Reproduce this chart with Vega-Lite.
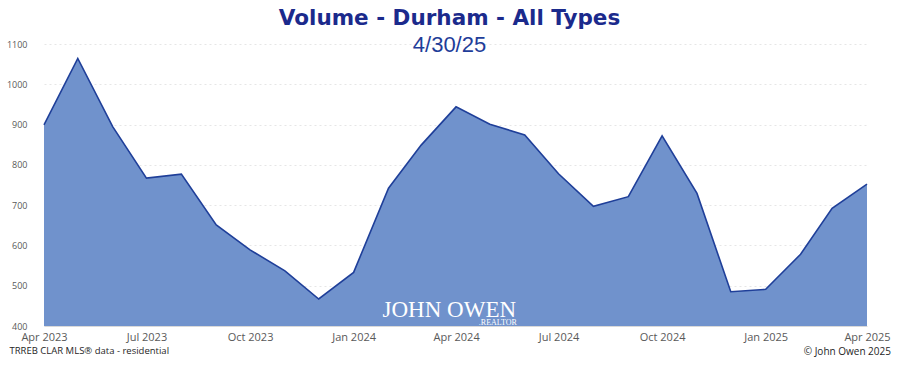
{
  "$schema": "https://vega.github.io/schema/vega-lite/v6.json",
  "width": 823,
  "height": 282,
  "autosize": {"type": "none"},
  "padding": {"left": 44, "top": 44, "right": 31, "bottom": 39},
  "background": "white",
  "config": {"view": {"stroke": null}, "font": "Open Sans"},
  "title": {
    "text": "Volume - Durham - All Types",
    "subtitle": "4/30/25",
    "font": "DejaVu Sans",
    "fontWeight": "bold",
    "fontSize": 21.5,
    "color": "#1b2a8c",
    "subtitleFont": "Liberation Sans",
    "subtitleFontSize": 22,
    "subtitleColor": "#1f3d99",
    "subtitlePadding": 6,
    "anchor": "middle",
    "frame": "group",
    "offset": -16,
    "dx": -6
  },
  "datasets": {
    "volume": [
      {"date": "2023-04-01", "volume": 899},
      {"date": "2023-05-01", "volume": 1064},
      {"date": "2023-06-01", "volume": 895},
      {"date": "2023-07-01", "volume": 767},
      {"date": "2023-08-01", "volume": 777},
      {"date": "2023-09-01", "volume": 651},
      {"date": "2023-10-01", "volume": 589},
      {"date": "2023-11-01", "volume": 537},
      {"date": "2023-12-01", "volume": 467},
      {"date": "2024-01-01", "volume": 533},
      {"date": "2024-02-01", "volume": 742},
      {"date": "2024-03-01", "volume": 849},
      {"date": "2024-04-01", "volume": 944},
      {"date": "2024-05-01", "volume": 901},
      {"date": "2024-06-01", "volume": 874},
      {"date": "2024-07-01", "volume": 778},
      {"date": "2024-08-01", "volume": 697},
      {"date": "2024-09-01", "volume": 721},
      {"date": "2024-10-01", "volume": 872},
      {"date": "2024-11-01", "volume": 729},
      {"date": "2024-12-01", "volume": 485},
      {"date": "2025-01-01", "volume": 491},
      {"date": "2025-02-01", "volume": 578},
      {"date": "2025-03-01", "volume": 692},
      {"date": "2025-04-01", "volume": 752}
    ],
    "notes": [
      {"label": "JOHN OWEN", "date": "2024-03-26", "volume": 423, "kind": "logo"},
      {"label": ".REALTOR", "date": "2024-05-25", "volume": 403, "kind": "sub"},
      {"label": "© John Owen 2025", "date": "2025-04-01", "volume": 400, "kind": "credit"}
    ]
  },
  "layer": [
    {
      "data": {"name": "volume"},
      "mark": {"type": "area", "color": "#7092cc", "opacity": 1},
      "encoding": {
        "x": {
          "field": "date",
          "type": "temporal",
          "scale": {
            "type": "utc",
            "domain": [
              {"year": 2023, "month": 4, "date": 1, "utc": true},
              {"year": 2025, "month": 4, "date": 1, "utc": true}
            ]
          },
          "axis": {
            "values": [
              {"year": 2023, "month": 4, "date": 1, "utc": true},
              {"year": 2023, "month": 7, "date": 1, "utc": true},
              {"year": 2023, "month": 10, "date": 1, "utc": true},
              {"year": 2024, "month": 1, "date": 1, "utc": true},
              {"year": 2024, "month": 4, "date": 1, "utc": true},
              {"year": 2024, "month": 7, "date": 1, "utc": true},
              {"year": 2024, "month": 10, "date": 1, "utc": true},
              {"year": 2025, "month": 1, "date": 1, "utc": true},
              {"year": 2025, "month": 4, "date": 1, "utc": true}
            ],
            "labelExpr": "utcFormat(datum.value, '%b %Y')",
            "labelFont": "Open Sans",
            "labelFontSize": 11,
            "labelColor": "#595959",
            "labelPadding": 5,
            "labelFlush": false,
            "labelOverlap": false,
            "ticks": false,
            "domain": true,
            "domainColor": "#d9d9d9",
            "grid": false,
            "title": "TRREB CLAR MLS® data - residential",
            "titleFont": "Open Sans",
            "titleFontSize": 9.5,
            "titleFontWeight": "normal",
            "titleColor": "#262626",
            "titleAnchor": "start",
            "titleAlign": "left",
            "titleBaseline": "middle",
            "titleX": -35,
            "titleY": 24
          }
        },
        "y": {
          "field": "volume",
          "type": "quantitative",
          "scale": {"domain": [400, 1100], "zero": false, "nice": false},
          "axis": {
            "values": [400, 500, 600, 700, 800, 900, 1000, 1100],
            "format": "d",
            "labelFont": "Open Sans",
            "labelFontSize": 9,
            "labelColor": "#595959",
            "labelPadding": 17,
            "ticks": false,
            "domain": false,
            "grid": true,
            "gridColor": "#e6e6e6",
            "gridDash": [2, 3],
            "title": null
          }
        },
        "y2": {"datum": 400}
      }
    },
    {
      "data": {"name": "volume"},
      "mark": {"type": "line", "color": "#1f3f99", "strokeWidth": 1.6},
      "encoding": {
        "x": {"field": "date", "type": "temporal"},
        "y": {"field": "volume", "type": "quantitative"}
      }
    },
    {
      "data": {"name": "volume"},
      "transform": [{"filter": "datum.date === '2024-04-01'"}],
      "mark": {"type": "point", "filled": true, "color": "#1f3f99", "size": 36, "opacity": 1},
      "encoding": {
        "x": {"field": "date", "type": "temporal"},
        "y": {"field": "volume", "type": "quantitative"}
      }
    },
    {
      "data": {"name": "notes"},
      "transform": [{"filter": "datum.kind === 'logo'"}],
      "mark": {"type": "text", "font": "Liberation Serif", "fontSize": 23, "color": "white", "align": "center", "baseline": "alphabetic"},
      "encoding": {
        "text": {"field": "label"},
        "x": {"field": "date", "type": "temporal"},
        "y": {"field": "volume", "type": "quantitative"}
      }
    },
    {
      "data": {"name": "notes"},
      "transform": [{"filter": "datum.kind === 'sub'"}],
      "mark": {"type": "text", "font": "Liberation Serif", "fontSize": 8, "color": "white", "align": "right", "baseline": "alphabetic"},
      "encoding": {
        "text": {"field": "label"},
        "x": {"field": "date", "type": "temporal"},
        "y": {"field": "volume", "type": "quantitative"}
      }
    },
    {
      "data": {"name": "notes"},
      "transform": [{"filter": "datum.kind === 'credit'"}],
      "mark": {"type": "text", "font": "Open Sans", "fontSize": 10, "color": "#262626", "align": "right", "baseline": "middle", "dx": 24, "dy": 26},
      "encoding": {
        "text": {"field": "label"},
        "x": {"field": "date", "type": "temporal"},
        "y": {"field": "volume", "type": "quantitative"}
      }
    }
  ]
}
